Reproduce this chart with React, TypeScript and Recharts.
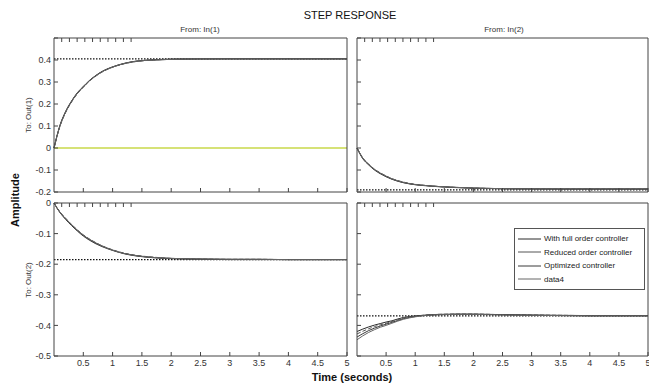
import React from 'react';
import { LineChart, Line, XAxis, YAxis, ReferenceLine, Legend } from 'recharts';

const TIME = [0, 0.1, 0.2, 0.3, 0.4, 0.5, 0.6, 0.7, 0.8, 1.0, 1.2, 1.4, 1.7, 2.0, 2.5, 3.0, 3.5, 4.0, 4.5, 5.0];

// To: Out(1), From: In(1)
const O1I1_FULL = [0, 0.100, 0.165, 0.212, 0.250, 0.278, 0.305, 0.326, 0.344, 0.368, 0.384, 0.394, 0.400, 0.403, 0.405, 0.405, 0.405, 0.405, 0.405, 0.405];
const O1I1_REDUCED = [0, 0.097, 0.162, 0.209, 0.247, 0.276, 0.303, 0.324, 0.342, 0.367, 0.383, 0.393, 0.400, 0.403, 0.405, 0.405, 0.405, 0.405, 0.405, 0.405];
const O1I1_OPTIMIZED = [0, 0.102, 0.167, 0.214, 0.252, 0.280, 0.306, 0.327, 0.345, 0.369, 0.385, 0.395, 0.401, 0.404, 0.405, 0.406, 0.406, 0.406, 0.406, 0.406];
const O1I1_DATA4 = [0, 0.099, 0.164, 0.211, 0.249, 0.277, 0.304, 0.325, 0.343, 0.368, 0.384, 0.394, 0.400, 0.403, 0.405, 0.405, 0.405, 0.405, 0.405, 0.405];

// To: Out(1), From: In(2)
const O1I2_FULL = [0, -0.047, -0.075, -0.098, -0.115, -0.129, -0.141, -0.150, -0.157, -0.166, -0.171, -0.175, -0.179, -0.182, -0.185, -0.186, -0.186, -0.186, -0.186, -0.186];
const O1I2_REDUCED = [0, -0.045, -0.073, -0.096, -0.113, -0.127, -0.139, -0.148, -0.155, -0.165, -0.171, -0.175, -0.179, -0.182, -0.185, -0.186, -0.186, -0.186, -0.186, -0.186];
const O1I2_OPTIMIZED = [0, -0.049, -0.077, -0.100, -0.117, -0.131, -0.142, -0.151, -0.158, -0.167, -0.172, -0.176, -0.180, -0.183, -0.185, -0.186, -0.187, -0.187, -0.187, -0.187];
const O1I2_DATA4 = [0, -0.046, -0.074, -0.097, -0.114, -0.128, -0.140, -0.149, -0.156, -0.166, -0.171, -0.175, -0.179, -0.182, -0.185, -0.186, -0.186, -0.186, -0.186, -0.186];

// To: Out(2), From: In(1)
const O2I1_FULL = [0, -0.030, -0.052, -0.072, -0.090, -0.106, -0.119, -0.130, -0.139, -0.154, -0.165, -0.172, -0.178, -0.181, -0.183, -0.184, -0.184, -0.185, -0.185, -0.185];
const O2I1_REDUCED = [0, -0.029, -0.050, -0.070, -0.088, -0.104, -0.117, -0.128, -0.138, -0.153, -0.164, -0.171, -0.177, -0.181, -0.183, -0.184, -0.184, -0.185, -0.185, -0.185];
const O2I1_OPTIMIZED = [0, -0.031, -0.054, -0.074, -0.092, -0.108, -0.121, -0.132, -0.141, -0.155, -0.166, -0.173, -0.179, -0.182, -0.184, -0.185, -0.185, -0.185, -0.185, -0.185];
const O2I1_DATA4 = [0, -0.030, -0.051, -0.071, -0.089, -0.105, -0.118, -0.129, -0.139, -0.154, -0.165, -0.172, -0.178, -0.181, -0.183, -0.184, -0.184, -0.185, -0.185, -0.185];

// To: Out(2), From: In(2)
const O2I2_FULL = [-0.420, -0.412, -0.405, -0.399, -0.394, -0.389, -0.385, -0.379, -0.374, -0.369, -0.366, -0.364, -0.363, -0.363, -0.365, -0.366, -0.367, -0.368, -0.368, -0.368];
const O2I2_REDUCED = [-0.428, -0.419, -0.411, -0.404, -0.398, -0.393, -0.387, -0.381, -0.376, -0.370, -0.366, -0.364, -0.363, -0.363, -0.365, -0.366, -0.367, -0.368, -0.368, -0.368];
const O2I2_OPTIMIZED = [-0.438, -0.427, -0.417, -0.409, -0.402, -0.396, -0.390, -0.384, -0.378, -0.371, -0.367, -0.365, -0.364, -0.364, -0.365, -0.367, -0.368, -0.369, -0.369, -0.369];
const O2I2_DATA4 = [-0.447, -0.434, -0.423, -0.414, -0.406, -0.400, -0.393, -0.386, -0.380, -0.372, -0.367, -0.365, -0.364, -0.364, -0.366, -0.367, -0.368, -0.369, -0.369, -0.369];

// steady-state (dotted) levels
const SS_O1I1 = 0.405;
const SS_O1I2 = -0.19;
const SS_O2I1 = -0.185;
const SS_O2I2 = -0.369;

const X_TICKS = [0.5, 1, 1.5, 2, 2.5, 3, 3.5, 4, 4.5, 5];
const TOP_Y_TICKS = [-0.2, -0.1, 0, 0.1, 0.2, 0.3, 0.4, 0.5];
const BOTTOM_Y_TICKS = [-0.5, -0.4, -0.3, -0.2, -0.1, 0];

const SERIES = [
  { key: 'full', name: 'With full order controller', color: '#2a2a2a', dash: undefined },
  { key: 'reduced', name: 'Reduced order controller', color: '#555555', dash: '4 2' },
  { key: 'optimized', name: 'Optimized controller', color: '#3a3a3a', dash: undefined },
  { key: 'data4', name: 'data4', color: '#666666', dash: undefined },
];

const FONT = 'Arial, "Liberation Sans", sans-serif';
const AXIS_COLOR = '#444';

const buildRows = (full: number[], reduced: number[], optimized: number[], data4: number[]) =>
  TIME.map((t, i) => ({ t, full: full[i], reduced: reduced[i], optimized: optimized[i], data4: data4[i] }));

const fmtY = (v: number) => (v >= 0.5 ? '' : String(Math.round(v * 10) / 10));
const fmtX = (v: number) => String(v);
const blank = () => '';

const seriesIndex = (name: string) => SERIES.findIndex((s) => s.name === name);

const renderLegend = (props: any) => {
  const payload = [...(props.payload || [])].sort((a: any, b: any) => seriesIndex(a.value) - seriesIndex(b.value));
  return (
    <div
      style={{
        border: '1px solid #555',
        background: '#fff',
        width: 131,
        height: 62,
        boxSizing: 'border-box',
        padding: '3px 0 0 3px',
        fontFamily: FONT,
        fontSize: 8,
        color: '#222',
      }}
    >
      {payload.map((e: any) => (
        <div key={e.value} style={{ display: 'flex', alignItems: 'center', height: 13.5 }}>
          <svg width={23} height={4}>
            <line x1={0} y1={2} x2={23} y2={2} stroke={e.color} strokeWidth={1} />
          </svg>
          <span style={{ marginLeft: 3, whiteSpace: 'nowrap' }}>{e.value}</span>
        </div>
      ))}
    </div>
  );
};

interface PanelProps {
  left: number;
  top: number;
  width: number;
  height: number;
  margin: { top: number; right: number; bottom: number; left: number };
  rows: any[];
  domain: [number, number];
  yTicks: number[];
  yLabels: boolean;
  xLabels: boolean;
  steady: number;
  zeroLine?: boolean;
  legend?: boolean;
}

const Panel: React.FC<PanelProps> = ({ left, top, width, height, margin, rows, domain, yTicks, yLabels, xLabels, steady, zeroLine, legend }) => (
  <div style={{ position: 'absolute', left, top }}>
    <LineChart width={width} height={height} data={rows} margin={margin}>
      <XAxis
        xAxisId="b"
        dataKey="t"
        type="number"
        domain={[0, 5]}
        ticks={X_TICKS}
        interval={0}
        tickSize={-4}
        tickMargin={8}
        height={xLabels ? 20 : 1}
        tickFormatter={xLabels ? fmtX : blank}
        stroke={AXIS_COLOR}
        tick={{ fontSize: 9, fill: '#333', fontFamily: FONT }}
      />
      <XAxis
        xAxisId="t"
        orientation="top"
        type="number"
        domain={[0, 5]}
        ticks={X_TICKS}
        interval={0}
        tickSize={-4}
        height={1}
        tickFormatter={blank}
        stroke={AXIS_COLOR}
      />
      <YAxis
        yAxisId="l"
        type="number"
        domain={domain}
        ticks={yTicks}
        interval={0}
        tickSize={-4}
        tickMargin={7}
        width={yLabels ? 54 : 1}
        tickFormatter={yLabels ? fmtY : blank}
        stroke={AXIS_COLOR}
        tick={{ fontSize: 9, fill: '#333', fontFamily: FONT }}
      />
      <YAxis
        yAxisId="r"
        orientation="right"
        type="number"
        domain={domain}
        ticks={yTicks}
        interval={0}
        tickSize={-4}
        width={1}
        tickFormatter={blank}
        stroke={AXIS_COLOR}
      />
      <ReferenceLine xAxisId="b" yAxisId="l" y={steady} stroke="#111" strokeWidth={1.2} strokeDasharray="1.5 1.5" />
      {zeroLine && <ReferenceLine xAxisId="b" yAxisId="l" y={0} stroke="#c8d84a" strokeWidth={1.5} />}
      {SERIES.map((s) => (
        <Line
          key={s.key}
          xAxisId="b"
          yAxisId="l"
          type="monotone"
          dataKey={s.key}
          name={s.name}
          stroke={s.color}
          strokeWidth={1}
          strokeDasharray={s.dash}
          dot={false}
          isAnimationActive={false}
        />
      ))}
      {legend && (
        <Legend
          layout="vertical"
          align="center"
          verticalAlign="middle"
          wrapperStyle={{ left: 166, top: 35, width: 131, height: 62 }}
          content={renderLegend}
        />
      )}
    </LineChart>
  </div>
);

const App: React.FC = () => (
  <div style={{ position: 'absolute', left: 0, top: 0, width: 649, height: 389, background: '#fff', overflow: 'hidden' }}>
    <Panel
      left={0}
      top={0}
      width={360}
      height={200}
      margin={{ top: 37, right: 12, bottom: 7, left: 0 }}
      rows={buildRows(O1I1_FULL, O1I1_REDUCED, O1I1_OPTIMIZED, O1I1_DATA4)}
      domain={[-0.2, 0.5]}
      yTicks={TOP_Y_TICKS}
      yLabels
      xLabels={false}
      steady={SS_O1I1}
      zeroLine
    />
    <Panel
      left={348}
      top={0}
      width={301}
      height={200}
      margin={{ top: 37, right: 0, bottom: 7, left: 8 }}
      rows={buildRows(O1I2_FULL, O1I2_REDUCED, O1I2_OPTIMIZED, O1I2_DATA4)}
      domain={[-0.2, 0.5]}
      yTicks={TOP_Y_TICKS}
      yLabels={false}
      xLabels={false}
      steady={SS_O1I2}
    />
    <Panel
      left={0}
      top={193}
      width={360}
      height={196}
      margin={{ top: 9, right: 12, bottom: 13, left: 0 }}
      rows={buildRows(O2I1_FULL, O2I1_REDUCED, O2I1_OPTIMIZED, O2I1_DATA4)}
      domain={[-0.5, 0]}
      yTicks={BOTTOM_Y_TICKS}
      yLabels
      xLabels
      steady={SS_O2I1}
    />
    <Panel
      left={348}
      top={193}
      width={301}
      height={196}
      margin={{ top: 9, right: 0, bottom: 13, left: 8 }}
      rows={buildRows(O2I2_FULL, O2I2_REDUCED, O2I2_OPTIMIZED, O2I2_DATA4)}
      domain={[-0.5, 0]}
      yTicks={BOTTOM_Y_TICKS}
      yLabels={false}
      xLabels
      steady={SS_O2I2}
      legend
    />
    <svg
      width={649}
      height={389}
      style={{ position: 'absolute', left: 0, top: 0, pointerEvents: 'none' }}
      fontFamily={FONT}
    >
      <text x={350} y={19} textAnchor="middle" fontSize={11} fill="#111">STEP RESPONSE</text>
      <text x={200} y={32} textAnchor="middle" fontSize={8} fill="#333">From: In(1)</text>
      <text x={504} y={32} textAnchor="middle" fontSize={8} fill="#333">From: In(2)</text>
      <text x={28} y={115} textAnchor="middle" dominantBaseline="central" fontSize={8} fill="#333" transform="rotate(-90 28 115)">To: Out(1)</text>
      <text x={28} y={280} textAnchor="middle" dominantBaseline="central" fontSize={8} fill="#333" transform="rotate(-90 28 280)">To: Out(2)</text>
      <text x={15} y={200} textAnchor="middle" dominantBaseline="central" fontSize={11} fontWeight="bold" fill="#111" transform="rotate(-90 15 200)">Amplitude</text>
      <text x={352} y={381} textAnchor="middle" fontSize={11} fontWeight="bold" fill="#111">Time (seconds)</text>
    </svg>
  </div>
);

export default App;
